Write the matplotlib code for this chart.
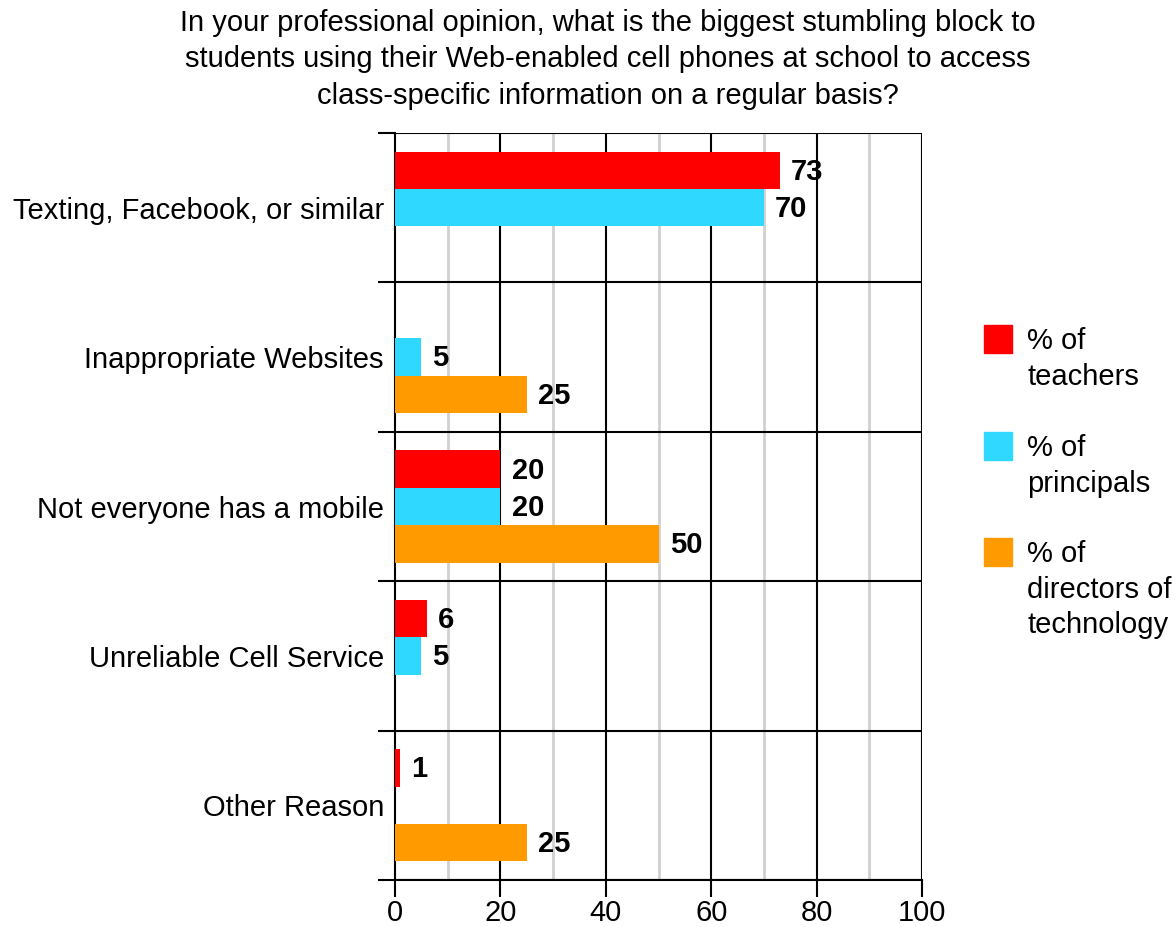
import numpy as np
import matplotlib
matplotlib.use("Agg")
import matplotlib.pyplot as plt
from matplotlib.patches import Rectangle

plt.rcParams['font.family'] = ['Liberation Sans', 'DejaVu Sans']

categories = ["Texting, Facebook, or similar", "Inappropriate Websites",
              "Not everyone has a mobile", "Unreliable Cell Service", "Other Reason"]
teachers = [73, None, 20, 6, 1]
principals = [70, 5, 20, 5, None]
directors = [None, 25, 50, None, 25]
series_names = ["% of\nteachers", "% of\nprincipals", "% of\ndirectors of\ntechnology"]
colors = ["#ff0000", "#2ed8ff", "#ff9a00"]
x_ticks = [0, 20, 40, 60, 80, 100]
title = ("In your professional opinion, what is the biggest stumbling block to\n"
         "students using their Web-enabled cell phones at school to access\n"
         "class-specific information on a regular basis?")

FS = 21

fig = plt.figure(figsize=(11.76, 9.27), dpi=100)
ax = fig.add_axes([395/1176, 1-880/927, (922-395)/1176, (880-133)/927])

bh = 0.25
ypos = np.arange(len(categories))
for k, (vals, col) in enumerate(zip([teachers, principals, directors], colors)):
    for i, v in enumerate(vals):
        if v is None:
            continue
        y = ypos[i] + (k - 1) * bh
        ax.barh(y, v, height=bh, color=col, zorder=3)
        ax.annotate(str(v), (v, y), xytext=(8, -1), textcoords='offset points',
                    va='center', ha='left', fontsize=FS, fontweight='bold', zorder=4)

ax.set_xlim(0, 100)
ax.set_ylim(len(categories) - 0.5, -0.5)

# grid: light minor, black major
for x in range(10, 100, 20):
    ax.axvline(x, color='#d0d0d0', lw=2, zorder=1)
for x in x_ticks[1:]:
    ax.axvline(x, color='black', lw=1.5, zorder=2)
for b in np.arange(-0.5, len(categories), 1):
    ax.axhline(b, color='black', lw=1.5, zorder=2)

ax.set_xticks(x_ticks)
ax.set_xticklabels([str(t) for t in x_ticks], fontsize=FS)
ax.tick_params(axis='x', length=12, width=1.5, direction='out', pad=2)

ax.set_yticks(np.arange(-0.5, len(categories), 1))
ax.set_yticklabels([])
ax.tick_params(axis='y', which='major', length=12, width=1.5)
ax.set_yticks(ypos, minor=True)
ax.set_yticklabels(categories, minor=True, fontsize=FS)
ax.tick_params(axis='y', which='minor', length=0, pad=8)

for s in ['right', 'top']:
    ax.spines[s].set_visible(False)
for s in ['left', 'bottom']:
    ax.spines[s].set_linewidth(1.5)

fig.text(608/1176, 1-9/927, title, ha='center', va='top', fontsize=FS, linespacing=1.38)

# legend drawn by hand
leg_y = [325, 432, 538]
for name, col, yy in zip(series_names, colors, leg_y):
    fig.add_artist(Rectangle((984/1176, 1-(yy+28)/927), 28/1176, 28/927,
                             transform=fig.transFigure, color=col))
    fig.text(1027/1176, 1-(yy+2)/927, name, ha='left', va='top', fontsize=FS,
             linespacing=1.35)

fig.savefig("out.png", dpi=100)
